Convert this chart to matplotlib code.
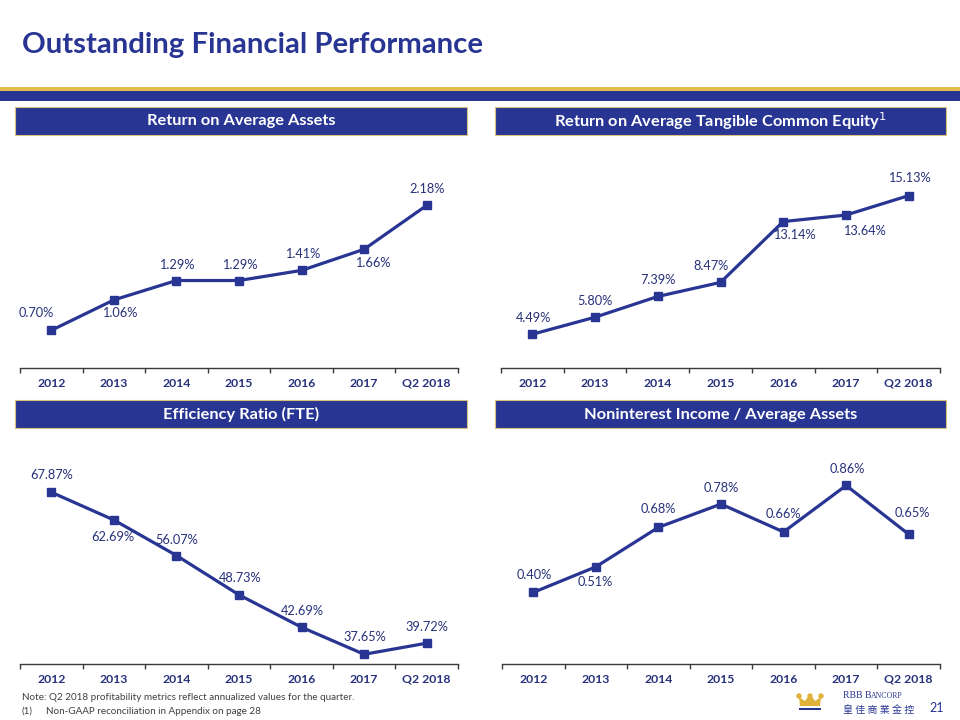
import matplotlib
matplotlib.use("Agg")
import matplotlib.pyplot as plt
from matplotlib.patches import Rectangle, Polygon, Ellipse

plt.rcParams['font.family'] = ['Lato', 'DejaVu Sans']

W, H = 960, 720
NAVY = '#283593'
GOLD = '#E3BC4E'
LABEL = '#27327A'
AXIS = '#3A3A3A'

categories = ['2012', '2013', '2014', '2015', '2016', '2017', 'Q2 2018']

roaa = [0.70, 1.06, 1.29, 1.29, 1.41, 1.66, 2.18]
roatce = [4.49, 5.80, 7.39, 8.47, 13.14, 13.64, 15.13]
efficiency = [67.87, 62.69, 56.07, 48.73, 42.69, 37.65, 39.72]
nonint = [0.40, 0.51, 0.68, 0.78, 0.66, 0.86, 0.65]

titles = ['Return on Average Assets',
          'Return on Average Tangible Common Equity$^{1}$',
          'Efficiency Ratio (FTE)',
          'Noninterest Income / Average Assets']

# label offsets in pixels (dx, dy up)
off_roaa = [(-15, 17), (6, -13), (0, 16), (1, 16), (1, 16), (9, -14), (0, 16)]
off_roatce = [(1, 16), (0, 16), (0, 16), (-9, 16), (11, -13), (18, -16), (1, 18)]
off_eff = [(0, 17), (-1, -17), (0, 16), (1, 17), (1, 16), (1, 17), (0, 16)]
off_nii = [(1, 17), (-1, -15), (0, 18), (0, 16), (0, 18), (1, 16), (4, 21)]

fig = plt.figure(figsize=(W / 100, H / 100), dpi=100)


def frect(x, y, w, h):
    return [x / W, 1 - (y + h) / H, w / W, h / H]


# background overlay axes for decorations
bg = fig.add_axes([0, 0, 1, 1])
bg.set_xlim(0, W)
bg.set_ylim(H, 0)
bg.axis('off')

# title
bg.text(22, 45, 'Outstanding Financial Performance', fontsize=21.2, fontweight='bold',
        color=NAVY, ha='left', va='center')
# bands
bg.add_patch(Rectangle((0, 87), W, 4, color=GOLD, lw=0))
bg.add_patch(Rectangle((0, 91), W, 10, color=NAVY, lw=0))

panels = [
    dict(vals=roaa, offs=off_roaa, hdr=(15, 107, 452, 28), ax=(20, 140, 438, 228), ylim=(0.254, 2.954)),
    dict(vals=roatce, offs=off_roatce, hdr=(495, 107, 451, 28), ax=(501, 140, 439, 228), ylim=(1.90, 19.40)),
    dict(vals=efficiency, offs=off_eff, hdr=(15, 400, 452, 28), ax=(20, 432, 438, 232), ylim=(35.84, 79.1)),
    dict(vals=nonint, offs=off_nii, hdr=(495, 400, 451, 28), ax=(502, 432, 438, 232), ylim=(0.092, 1.09)),
]

for p, title in zip(panels, titles):
    hx, hy, hw, hh = p['hdr']
    bg.add_patch(Rectangle((hx, hy), hw, hh, facecolor=NAVY, edgecolor='#D9C07A', lw=0.8))
    bg.text(hx + hw / 2, hy + hh / 2 + 0.5, title, color='white', fontsize=11.8,
            fontweight='bold', ha='center', va='center')

    ax = fig.add_axes(frect(*p['ax']))
    ax.set_facecolor('none')
    xs = list(range(len(categories)))
    ax.plot(xs, p['vals'], color=NAVY, lw=2.3, marker='s', markersize=6,
            markerfacecolor=NAVY, markeredgecolor=NAVY, solid_joinstyle='miter')
    ax.set_xlim(-0.5, len(categories) - 0.5)
    ax.set_ylim(*p['ylim'])
    for s in ['top', 'right', 'left']:
        ax.spines[s].set_visible(False)
    ax.spines['bottom'].set_color(AXIS)
    ax.spines['bottom'].set_linewidth(1.0)
    ax.set_yticks([])
    ax.set_xticks([i - 0.5 for i in range(len(categories) + 1)])
    ax.set_xticklabels([])
    ax.tick_params(axis='x', which='major', length=3.5, width=1.0, color=AXIS, direction='out')
    ax.set_xticks(xs, minor=True)
    ax.set_xticklabels(categories, minor=True, fontsize=8.8, fontweight='bold', color=LABEL)
    ax.tick_params(axis='x', which='minor', length=0, pad=7)
    for i, (v, (dx, dy)) in enumerate(zip(p['vals'], p['offs'])):
        ax.annotate(f'{v:.2f}%', xy=(i, v), xytext=(dx * 0.72, dy * 0.72),
                    textcoords='offset points', ha='center', va='center',
                    fontsize=9.2, color=LABEL)

# footnotes
bg.text(22, 697, 'Note: Q2 2018 profitability metrics reflect annualized values for the quarter.',
        fontsize=7.1, color='#404040', ha='left', va='center')
bg.text(22, 711, '(1)', fontsize=7.1, color='#404040', ha='left', va='center')
bg.text(46, 711, 'Non-GAAP reconciliation in Appendix on page 28',
        fontsize=7.1, color='#404040', ha='left', va='center')

# logo: crown
crown = Polygon([(800, 706), (799, 697), (805, 701), (810, 694), (815, 701), (821, 697), (820, 706)],
                closed=True, facecolor='#E0B23A', edgecolor='none')
bg.add_patch(crown)
for cx in (799, 810, 821):
    bg.add_patch(Ellipse((cx, 696), 4, 4, color='#E0B23A'))
bg.add_patch(Rectangle((799, 708), 22, 1.6, color=NAVY, lw=0))
bg.text(843, 696, 'RBB B', fontsize=7, color=NAVY, ha='left', va='center', family=['Liberation Serif'])
bg.text(871, 696.5, 'ANCORP', fontsize=5.6, color=NAVY, ha='left', va='center', family=['Liberation Serif'])
bg.text(843, 710, '皇 佳 商 業 金 控', fontsize=7.2, color=NAVY, ha='left', va='center',
        family=['Noto Sans CJK TC', 'DejaVu Sans'])
bg.text(937, 708, '21', fontsize=9, color=NAVY, ha='center', va='center')

fig.savefig('out.png', dpi=100)
